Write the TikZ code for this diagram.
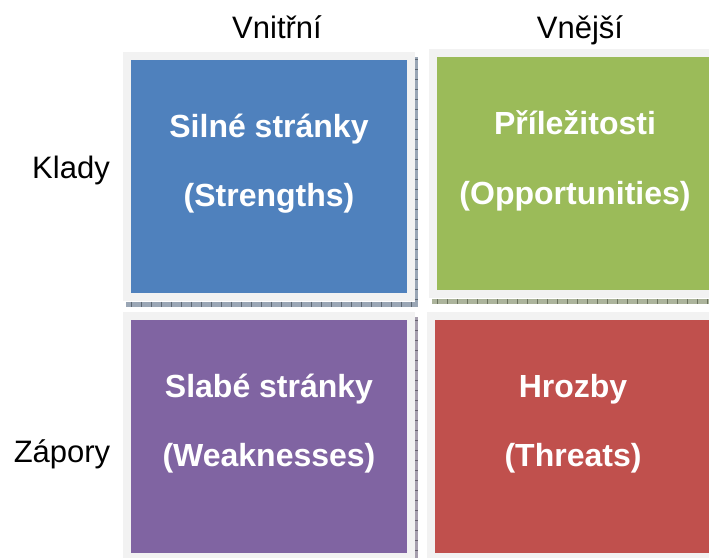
\documentclass[tikz,border=0pt]{standalone}
\usepackage{fontspec}
\setmainfont{Liberation Sans}
\usetikzlibrary{calc,backgrounds}

\definecolor{swotblue}{HTML}{4F81BD}
\definecolor{swotgreen}{HTML}{9BBB59}
\definecolor{swotpurple}{HTML}{8064A2}
\definecolor{swotred}{HTML}{C0504D}
\definecolor{framegray}{HTML}{F2F2F2}

\begin{document}
\begin{tikzpicture}[
    x=1pt, y=-1pt,
    quad/.style={fill=#1, minimum width=276pt, minimum height=233pt,
      inner sep=0pt, outer sep=0pt,
      preaction={draw=framegray, line width=16pt}},
    quadtext/.style={text=white, anchor=base,
      font=\bfseries\fontsize{32}{38}\selectfont},
    axislabel/.style={anchor=base, font=\fontsize{31}{37}\selectfont},
    shadowstrip/.style={fill=#1!35!gray!70},
    hatchtick/.style={draw=#1!30!black!70, line width=0.6pt}
]
  \useasboundingbox (0,0) rectangle (709,557);

  % the four quadrants
  \node[quad=swotblue]   (strengths)     at (269,176)   {};
  \node[quad=swotgreen]  (opportunities) at (575,173.5) {};
  \node[quad=swotpurple] (weaknesses)    at (269,436.5) {};
  \node[quad=swotred]    (threats)       at (573,436.5) {};

  \node[quadtext] (strengths1) at ($(strengths.center)+(0,-39)$) {Silné stránky};
  \node[quadtext] (strengths2) at ($(strengths.center)+(0,30)$) {(Strengths)};
  \node[quadtext] (opportunities1) at ($(opportunities.center)+(0,-39)$) {Příležitosti};
  \node[quadtext] (opportunities2) at ($(opportunities.center)+(0,31)$) {(Opportunities)};
  \node[quadtext] (weaknesses1) at ($(weaknesses.center)+(0,-39)$) {Slabé stránky};
  \node[quadtext] (weaknesses2) at ($(weaknesses.center)+(0,30)$) {(Weaknesses)};
  \node[quadtext] (threats1) at ($(threats.center)+(0,-39)$) {Hrozby};
  \node[quadtext] (threats2) at ($(threats.center)+(0,30)$) {(Threats)};

  % axis labels
  \node[axislabel] (inner) at (277,38) {Vnitřní};
  \node[axislabel] (outer) at (580,38) {Vnější};
  \node[axislabel] (pros)  at (71,178) {Klady};
  \node[axislabel] (cons)  at (62,462) {Zápory};

  % hatched shadows behind the frames
  \begin{scope}[on background layer]
    \fill[white] (0,0) rectangle (709,557);
    \foreach \q/\c in {strengths/swotblue, opportunities/swotgreen,
                       weaknesses/swotpurple, threats/swotred} {
      \fill[shadowstrip=\c] ($(\q.south west)+(-5,9)$) rectangle ($(\q.south east)+(11,14)$);
      \fill[shadowstrip=\c] ($(\q.north east)+(8,-3)$) rectangle ($(\q.south east)+(11,14)$);
      \foreach \k in {0,10,...,280}
        \draw[hatchtick=\c] ($(\q.south west)+(\k,9)$) -- ++(0,5);
      \foreach \k in {0,10,...,240}
        \draw[hatchtick=\c] ($(\q.north east)+(8,\k)$) -- ++(3,0);
    }
  \end{scope}
\end{tikzpicture}
\end{document}
